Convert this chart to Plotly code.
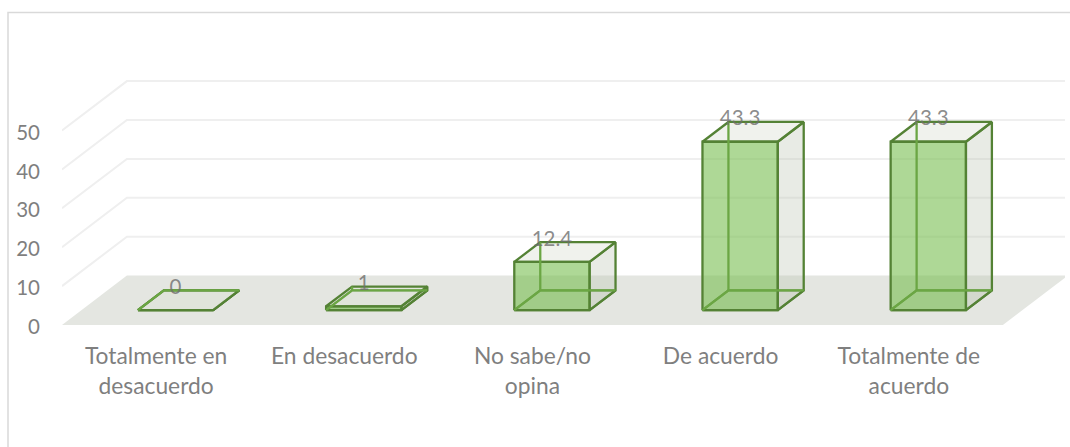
import plotly.graph_objects as go

CATEGORY_LINE1 = ["Totalmente en", "En desacuerdo", "No sabe/no", "De acuerdo", "Totalmente de"]
CATEGORY_LINE2 = ["desacuerdo", "", "opina", "", "acuerdo"]
VALUES = [0, 1, 12.4, 43.3, 43.3]
VALUE_TICKS = [0, 10, 20, 30, 40, 50]

W, H = 1070, 447
L, R, T, B = 62, 5, 70, 122
FONT = "Lato"
GREY = "#7f7f7f"
X_MAX = 5.33
Y_MAX = 65.55
DEPTH_X = 0.345     # oblique shift of the full floor depth, category units
DEPTH_Y = 12.7      # oblique shift of the full floor depth, value units
BAR_L, BAR_R = 0.30, 0.70
BAR_D0, BAR_D1 = 0.30, 0.70
n = len(VALUES)


def pr(cat, val, depth):
    return cat + depth * DEPTH_X, val + depth * DEPTH_Y


def polys(list_of_polys):
    xs, ys = [], []
    for poly in list_of_polys:
        for p in poly:
            x, y = pr(*p)
            xs.append(x)
            ys.append(y)
        xs.append(None)
        ys.append(None)
    return xs, ys


def add_face(fig, plist, fill, line, width=2.3):
    xs, ys = polys(plist)
    fig.add_trace(go.Scatter(
        x=xs, y=ys, mode="lines", fill="toself" if fill else "none",
        fillcolor=fill, line=dict(color=line, width=width, simplify=False),
        hoverinfo="skip", showlegend=False, cliponaxis=False))


fig = go.Figure()

# floor
add_face(fig, [[(0, 0, 0), (n, 0, 0), (n, 0, 1), (0, 0, 1), (0, 0, 0)]], "#e4e6e1", "rgba(0,0,0,0)", 0)
# wall gridlines
grid = [[(0, v, 0), (0, v, 1), (n, v, 1)] for v in VALUE_TICKS[1:]]
add_face(fig, grid, None, "#efefef", 2)

# bars
sides, tops, fronts, hidden, bottoms = [], [], [], [], []
for i, v in enumerate(VALUES):
    a, b = i + BAR_L, i + BAR_R
    d0, d1 = BAR_D0, BAR_D1
    bottoms.append([(a, 0, d0), (b, 0, d0), (b, 0, d1), (a, 0, d1), (a, 0, d0)])
    sides.append([(b, 0, d0), (b, 0, d1), (b, v, d1), (b, v, d0), (b, 0, d0)])
    tops.append([(a, v, d0), (b, v, d0), (b, v, d1), (a, v, d1), (a, v, d0)])
    fronts.append([(a, 0, d0), (b, 0, d0), (b, v, d0), (a, v, d0), (a, 0, d0)])
    hidden.append([(a, 0, d0), (a, 0, d1), (b, 0, d1)])
    hidden.append([(a, 0, d1), (a, v, d1)])

add_face(fig, bottoms, "rgba(190,195,180,0.12)", "#548235")
add_face(fig, sides, "rgba(190,198,180,0.35)", "#548235")
add_face(fig, tops, "rgba(225,230,220,0.5)", "#548235")
add_face(fig, fronts, "rgba(120,190,80,0.6)", "#548235")
add_face(fig, hidden, None, "#6ba644")

# data labels
lab_x, lab_y = [], []
for i, v in enumerate(VALUES):
    x, y = pr(i + 0.5, v + 5.5, BAR_D0)
    lab_x.append(x)
    lab_y.append(y)
fig.add_trace(go.Scatter(
    x=lab_x, y=lab_y, mode="text", text=[str(v) for v in VALUES],
    textposition="middle center", textfont=dict(family=FONT, size=20.5, color="rgba(110,110,110,0.8)"),
    hoverinfo="skip", showlegend=False, cliponaxis=False))

ticks = [i + 0.5 for i in range(n)]
fig.update_layout(
    width=W, height=H, autosize=False,
    margin=dict(l=L, r=R, t=T, b=B, pad=0),
    paper_bgcolor="white", plot_bgcolor="rgba(0,0,0,0)",
    font=dict(family=FONT, color=GREY),
    showlegend=False,
    xaxis=dict(range=[0, X_MAX], tickvals=ticks, ticktext=CATEGORY_LINE1,
               showgrid=False, zeroline=False, showline=False, ticks="",
               ticklabelstandoff=15, tickfont=dict(family=FONT, size=22.8, color=GREY),
               tickangle=0, automargin=False),
    xaxis2=dict(range=[0, X_MAX], tickvals=ticks, ticktext=CATEGORY_LINE2,
                overlaying="x", anchor="y", side="bottom",
                showgrid=False, zeroline=False, showline=False, ticks="",
                ticklabelstandoff=45, tickfont=dict(family=FONT, size=22.8, color=GREY),
                tickangle=0, automargin=False),
    yaxis=dict(range=[0, Y_MAX], tickvals=VALUE_TICKS, showgrid=False, zeroline=False,
               showline=False, ticks="", ticklabelstandoff=21, ticklabelshift=2,
               tickfont=dict(family=FONT, size=20.5, color=GREY), automargin=False),
    shapes=[dict(type="rect", xref="paper", yref="paper",
                 x0=(8 - L) / (W - L - R), x1=(W + 20 - L) / (W - L - R),
                 y0=-(B + 20) / (H - T - B), y1=(H - B - 12.5) / (H - T - B),
                 line=dict(color="#d9d9d9", width=1.5), layer="below")],
)
# second axis trace so that xaxis2 is drawn
fig.add_trace(go.Scatter(x=ticks, y=[None] * n, xaxis="x2", mode="lines", hoverinfo="skip", showlegend=False))

fig.write_html("out.html", config=dict(displayModeBar=False),
               post_script="document.body.style.margin='0';document.body.style.overflow='hidden';")
